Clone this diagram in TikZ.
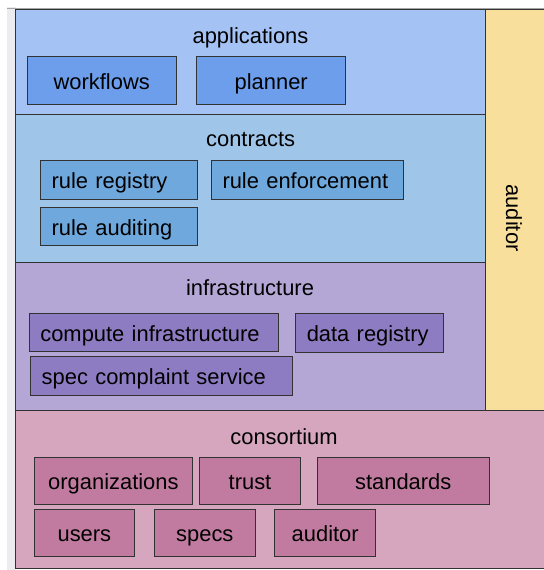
\documentclass[tikz,border=0pt]{standalone}
\usepackage{fontspec}
\setmainfont{Liberation Sans}
\usepackage{xcolor}
\usepackage{tikz}
\usetikzlibrary{positioning}
\definecolor{appBg}{HTML}{A4C2F4}
\definecolor{appBox}{HTML}{6D9EEB}
\definecolor{conBg}{HTML}{9FC5E8}
\definecolor{conBox}{HTML}{6FA8DC}
\definecolor{infBg}{HTML}{B4A7D6}
\definecolor{infBox}{HTML}{8E7CC3}
\definecolor{csmBg}{HTML}{D5A6BD}
\definecolor{csmBox}{HTML}{C27BA0}
\definecolor{audBg}{RGB}{248,224,156}
\definecolor{edgeGray}{RGB}{236,236,240}
\definecolor{lineDark}{RGB}{50,50,50}
\tikzset{
  layer/.style={draw=lineDark, line width=0.8pt},
  part/.style={draw=lineDark, line width=0.8pt, inner xsep=0pt, inner ysep=0pt,
    text height=18bp, text depth=0.5bp, align=center},
  lpart/.style={part, inner xsep=11bp, align=left},
  ttl/.style={anchor=base, inner sep=0pt}
}

\begin{document}
\begin{tikzpicture}[x=1bp,y=-1bp, font=\fontsize{22}{26}\selectfont]
\useasboundingbox (0,0) rectangle (544,570);
% screenshot edge
\fill[edgeGray] (7,7) rectangle (16,570);
\draw[gray!70, line width=0.8pt] (7,8)--(544,8);
% layers
\filldraw[layer, fill=appBg] (15.7,9) rectangle (485,114);
\filldraw[layer, fill=conBg] (15.7,114) rectangle (485,262);
\filldraw[layer, fill=infBg] (15.7,262) rectangle (485,410.5);
\filldraw[layer, fill=csmBg] (545,410.5)--(15.7,410.5)--(15.7,568.5)--(545,568.5);
\filldraw[layer, fill=audBg] (545,9)--(485,9)--(485,410.5)--(545,410.5);
\node[rotate=-90] (audit) at (514,218) {auditor};
% applications
\node[ttl] (apps) at (250.5,43.4) {applications};
\node[part, fill=appBox, minimum width=148.7bp, minimum height=47.6bp] (wf) at (101.7,80.5) {workflows};
\node[part, fill=appBox, minimum width=149bp, minimum height=47.6bp] (plan) at (271.2,80.5) {planner};
% contracts
\node[ttl] (cons) at (250.6,147) {contracts};
\node[lpart, fill=conBox, text width=135bp, minimum height=38.5bp] (rreg) at (119.1,180) {rule registry};
\node[lpart, fill=conBox, text width=170bp, minimum height=38.5bp] (renf) at (307.5,180) {rule enforcement};
\node[lpart, fill=conBox, text width=135bp, minimum height=38.6bp] (raud) at (119.1,226.5) {rule auditing};
% infrastructure
\node[ttl] (infra) at (250,295.5) {infrastructure};
\node[lpart, fill=infBox, text width=226.7bp, minimum height=38.5bp] (comp) at (153.7,332.5) {compute infrastructure};
\node[lpart, fill=infBox, text width=125.3bp, minimum height=38.7bp] (dreg) at (369.4,332.7) {data registry};
\node[lpart, fill=infBox, text width=239.3bp, minimum height=38.6bp] (spec) at (161.4,376) {spec complaint service};
% consortium
\node[ttl] (csm) at (284,444.3) {consortium};
\node[part, fill=csmBox, minimum width=158.7bp, minimum height=46.8bp] (org) at (113.4,480.9) {organizations};
\node[part, fill=csmBox, minimum width=100.6bp, minimum height=46.8bp] (trust) at (250,480.9) {trust};
\node[part, fill=csmBox, minimum width=171.7bp, minimum height=46.6bp] (std) at (403.2,481) {standards};
\node[part, fill=csmBox, minimum width=100.7bp, minimum height=47.3bp] (usr) at (84.4,532.7) {users};
\node[part, fill=csmBox, minimum width=101bp, minimum height=47.3bp] (specs) at (204.8,532.7) {specs};
\node[part, fill=csmBox, minimum width=101bp, minimum height=47.3bp] (aud) at (325.2,532.7) {auditor};
\end{tikzpicture}
\end{document}
